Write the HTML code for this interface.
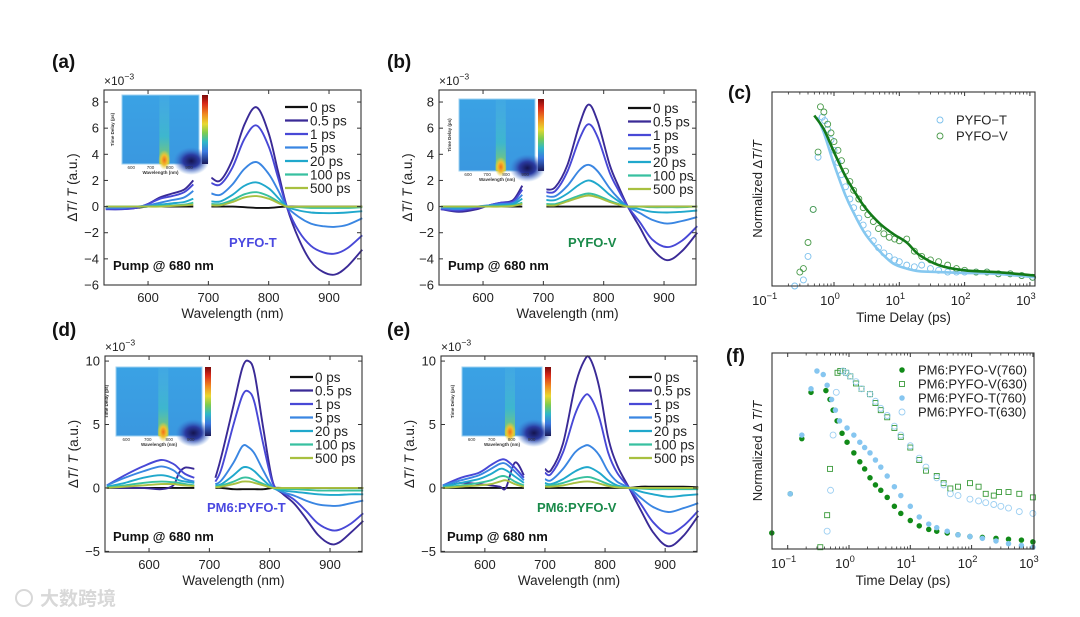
<!DOCTYPE html>
<html><head><meta charset="utf-8">
<style>
html,body{margin:0;padding:0;background:#fff;}
svg{display:block;font-family:"Liberation Sans","Noto Sans CJK SC",sans-serif;}
</style></head>
<body>
<svg id="fig" width="1080" height="617" viewBox="0 0 1080 617" xmlns="http://www.w3.org/2000/svg">
<defs>
<linearGradient id="cbar" x1="0" y1="0" x2="0" y2="1">
<stop offset="0" stop-color="#7a0a0a"/><stop offset="0.12" stop-color="#d8281a"/><stop offset="0.28" stop-color="#f08a20"/><stop offset="0.42" stop-color="#e8d830"/><stop offset="0.55" stop-color="#7ccc50"/><stop offset="0.68" stop-color="#30b8c8"/><stop offset="0.82" stop-color="#3a78e0"/><stop offset="1" stop-color="#1a1a5a"/>
</linearGradient>
<linearGradient id="stripe" x1="0" y1="0" x2="0" y2="1">
<stop offset="0" stop-color="#5ac0e0" stop-opacity="0.2"/><stop offset="0.6" stop-color="#40c8c0" stop-opacity="0.6"/><stop offset="1" stop-color="#a0d040" stop-opacity="0.95"/>
</linearGradient>
<radialGradient id="hot"><stop offset="0" stop-color="#f07018"/><stop offset="0.5" stop-color="#f0c030"/><stop offset="1" stop-color="#e0d840" stop-opacity="0"/></radialGradient>
<radialGradient id="cold"><stop offset="0" stop-color="#141450"/><stop offset="0.45" stop-color="#2a3aa0"/><stop offset="1" stop-color="#3a7ad8" stop-opacity="0"/></radialGradient>
<linearGradient id="hmbase" x1="0" y1="0" x2="0" y2="1"><stop offset="0" stop-color="#3aa2e4"/><stop offset="1" stop-color="#3a98e0"/></linearGradient>
</defs>
<g id="root"></g>
</svg>
<script>
// ---------- data: spectra panels ----------
const timeLabels = ["0 ps","0.5 ps","1 ps","5 ps","20 ps","100 ps","500 ps"];
const specTicksX = [600,700,800,900];
const ticksYab = [-6,-4,-2,0,2,4,6,8];
const ticksYde = [-5,0,5,10];

const wlA = [530,555,580,600,620,640,660,675,null,705,720,740,760,780,800,815,830,850,870,890,910,930,955];
const a0   = [-0.1,-0.1,-0.1,0,0,0,0,0,null,0,0,0,-0.05,-0.1,-0.1,-0.05,0,0,0,0,0,0,0];
const a05  = [-0.2,-0.2,-0.1,0.2,0.7,1.0,1.3,2.0,null,2.2,2.0,3.6,6.3,7.6,5.6,2.8,0,-2.5,-4.2,-5.0,-5.2,-4.6,-3.3];
const a1   = [-0.2,-0.2,-0.1,0.2,0.6,0.8,1.1,1.7,null,1.8,1.7,3.0,5.2,6.2,4.6,2.3,0,-1.9,-3.0,-3.5,-3.6,-3.2,-2.2];
const a5   = [-0.1,-0.1,0,0.1,0.3,0.5,0.7,1.2,null,1.0,0.9,1.7,2.9,3.4,2.5,1.3,0,-0.8,-1.3,-1.5,-1.55,-1.4,-0.9];
const a20  = [0,0,0,0,0.15,0.25,0.35,0.6,null,0.4,0.4,0.9,1.6,1.85,1.4,0.7,0,-0.3,-0.45,-0.5,-0.5,-0.45,-0.35];
const a100 = [0,0,0,0,0.05,0.1,0.15,0.3,null,0.2,0.2,0.5,0.95,1.1,0.8,0.4,0,-0.05,-0.1,-0.1,-0.1,-0.1,-0.05];
const a500 = [0,0,0,0,0,0.05,0.1,0.15,null,0.1,0.1,0.35,0.7,0.8,0.6,0.3,0,0,0,0,0,0,0];

const wlB = [530,560,590,610,630,650,665,null,705,720,740,760,775,790,810,825,840,860,880,905,930,955];
const b0   = [0,0,0,0,0,0,0,null,0,0,0,0,0,0,0,0,0,0,0,0,0,0];
const b05  = [-0.2,-0.4,-0.2,0.1,0.3,0.5,1.6,null,1.3,1.5,3.2,6.3,7.8,6.5,3.2,1.5,0,-1.6,-3.2,-4.1,-3.4,-2.0];
const b1   = [-0.2,-0.3,-0.1,0.1,0.3,0.4,1.3,null,1.1,1.2,2.7,5.2,6.3,5.3,2.6,1.2,0,-1.2,-2.5,-3.1,-2.6,-1.5];
const b5   = [-0.1,-0.2,0,0.1,0.2,0.3,0.9,null,0.8,0.8,1.6,2.8,3.2,2.7,1.4,0.6,0,-0.5,-1.0,-1.3,-1.1,-0.8];
const b20  = [0,-0.1,0,0.05,0.1,0.2,0.6,null,0.5,0.5,1.0,1.7,2.0,1.7,0.9,0.4,0,-0.2,-0.4,-0.45,-0.4,-0.3];
const b100 = [0,0,0,0,0.05,0.1,0.3,null,0.2,0.2,0.5,0.85,1.0,0.85,0.45,0.2,0,0,-0.05,-0.05,-0.05,0];
const b500 = [0,0,0,0,0,0.05,0.2,null,0.1,0.1,0.4,0.7,0.85,0.7,0.35,0.15,0,0,0,0,0,0];

const wlD = [530,560,590,620,640,650,660,675,null,710,720,740,755,765,775,790,805,820,840,860,880,900,915,935,955];
const d0   = [0,0,0,0,0,0,0,0,null,0,0,-0.1,-0.1,-0.1,-0.1,-0.1,0,0,0,0,0,0,0,0,0];
const d05  = [0,0,0,-0.1,0.2,1.2,1.6,1.5,null,0.8,2.5,6.5,9.5,10.0,9.0,4.5,0.5,-0.4,-1.2,-2.4,-3.7,-4.4,-4.3,-3.5,-2.6];
const d1   = [0.2,1.0,1.7,2.2,1.9,1.5,1.1,0.8,null,0.5,1.5,5.0,7.3,7.6,6.7,3.3,0.4,-0.3,-0.9,-1.8,-2.8,-3.3,-3.3,-2.8,-2.0];
const d5   = [0.2,0.8,1.3,1.7,1.4,1.0,0.7,0.5,null,0.3,0.6,2.0,3.3,3.2,2.7,1.3,0.1,-0.3,-0.6,-1.0,-1.3,-1.4,-1.4,-1.2,-1.0];
const d20  = [0.1,0.4,0.8,1.0,0.8,0.6,0.5,0.4,null,0.2,0.3,1.0,1.6,1.6,1.3,0.6,0,-0.2,-0.3,-0.4,-0.5,-0.55,-0.55,-0.5,-0.5];
const d100 = [0.05,0.2,0.4,0.5,0.45,0.4,0.3,0.2,null,0.1,0.2,0.5,0.8,0.8,0.6,0.3,0,-0.1,-0.1,-0.15,-0.2,-0.2,-0.2,-0.2,-0.2];
const d500 = [0,0.1,0.2,0.3,0.3,0.25,0.2,0.15,null,0.05,0.1,0.3,0.5,0.5,0.4,0.2,0,0,0,0,0,0,0,0,0];

const wlE = [530,560,590,610,625,635,650,665,null,700,710,730,750,765,775,790,805,820,840,860,880,905,930,955];
const e0   = [0,0,0,0,0,0,0,0,null,0,0,0,0,0,0,0,0,0,0,0.1,0.1,0.1,0.1,0.05];
const e05  = [0.1,0.4,0.3,0.2,0.1,0,2.0,1.0,null,1.5,1.4,3.5,8.0,10.0,10.2,8.0,4.0,1.8,0,-1.8,-3.5,-4.6,-3.8,-2.2];
const e1   = [0.2,0.8,1.2,1.8,2.2,2.2,1.6,0.8,null,1.2,1.1,2.8,5.8,7.2,7.2,5.6,2.8,1.2,0,-1.3,-2.7,-3.6,-3.0,-1.8];
const e5   = [0.2,0.6,1.0,1.5,1.9,1.9,1.3,0.6,null,0.7,0.6,1.5,2.8,3.3,3.3,2.6,1.3,0.5,0,-0.8,-1.5,-1.9,-1.6,-1.2];
const e20  = [0.1,0.4,0.7,1.1,1.5,1.4,0.9,0.4,null,0.4,0.3,0.7,1.3,1.6,1.6,1.2,0.6,0.2,0,-0.3,-0.5,-0.7,-0.6,-0.5];
const e100 = [0.05,0.2,0.4,0.6,0.9,0.9,0.5,0.2,null,0.2,0.2,0.4,0.7,0.85,0.85,0.6,0.3,0.1,0,-0.05,-0.1,-0.1,-0.1,-0.1];
const e500 = [0,0.1,0.2,0.3,0.5,0.6,0.3,0.1,null,0.1,0.1,0.2,0.4,0.5,0.5,0.35,0.15,0.05,0,0,0,0,0,0];

// ---------- data: kinetics (c) ----------
const logTicks = [-1,0,1,2,3];
const cT_t = [0.25,0.34,0.4,0.48,0.57,0.66,0.72,0.8,0.9,1.0,1.15,1.3,1.5,1.75,2,2.4,2.8,3.3,4,4.8,5.8,7,8.5,10,13,17,22,30,40,55,75,100,150,220,330,500,750,1100];
const cT_v = [0,0.035,0.17,0.44,0.74,0.97,0.95,0.9,0.84,0.78,0.71,0.64,0.57,0.5,0.45,0.39,0.35,0.3,0.26,0.22,0.19,0.17,0.15,0.14,0.12,0.11,0.12,0.1,0.09,0.08,0.08,0.08,0.08,0.08,0.07,0.07,0.06,0.05];
const cV_t = [0.3,0.34,0.4,0.48,0.57,0.62,0.7,0.8,0.9,1.0,1.15,1.3,1.5,1.75,2,2.4,2.8,3.3,4,4.8,5.8,7,8.5,10,13,17,22,30,40,55,75,100,150,220,330,500,750,1100];
const cV_v = [0.08,0.1,0.25,0.44,0.77,1.03,1.0,0.93,0.88,0.83,0.78,0.72,0.66,0.6,0.55,0.5,0.45,0.41,0.37,0.33,0.3,0.28,0.27,0.26,0.27,0.2,0.17,0.15,0.14,0.12,0.1,0.09,0.08,0.08,0.07,0.07,0.06,0.05];
const fitT_t = [0.55,0.7,1,1.5,2,3,5,8,13,20,40,100,300,1200];
const fitT_v = [0.97,0.88,0.7,0.52,0.42,0.3,0.2,0.13,0.1,0.085,0.08,0.075,0.07,0.05];
const fitV_t = [0.5,0.7,1,1.5,2,3,5,8,13,20,40,100,300,1200];
const fitV_v = [0.98,0.9,0.77,0.63,0.55,0.45,0.36,0.3,0.25,0.18,0.12,0.09,0.08,0.06];

// ---------- data: kinetics (f) ----------
const fV760_t = [0.055,0.11,0.17,0.24,0.42,0.49,0.55,0.64,0.77,0.93,1.2,1.5,1.8,2.2,2.7,3.3,4.2,5.5,7,10,14,20,27,40,60,94,150,250,400,650,1000];
const fV760_v = [0.09,0.31,0.62,0.88,0.89,0.84,0.78,0.72,0.65,0.6,0.54,0.49,0.45,0.4,0.36,0.33,0.29,0.24,0.2,0.16,0.13,0.11,0.1,0.09,0.08,0.07,0.065,0.06,0.055,0.05,0.04];
const fT760_t = [0.11,0.17,0.24,0.3,0.38,0.44,0.52,0.6,0.7,0.93,1.2,1.5,1.8,2.2,2.7,3.3,4.2,5.5,7,10,14,20,27,40,60,94,150,250,400,650,1000];
const fT760_v = [0.31,0.64,0.9,1.0,0.98,0.92,0.84,0.78,0.72,0.68,0.64,0.6,0.57,0.54,0.5,0.46,0.41,0.35,0.3,0.24,0.18,0.14,0.12,0.1,0.08,0.07,0.06,0.045,0.03,0.02,0.01];
const fV630_t = [0.34,0.44,0.49,0.65,0.72,0.8,0.9,1.05,1.3,1.6,2.2,2.7,3.3,4.2,5.5,7,10,14,18,27,35,45,60,94,130,170,230,280,400,600,1000];
const fV630_v = [0.01,0.19,0.45,0.99,1.0,1.0,0.99,0.97,0.93,0.9,0.87,0.82,0.78,0.74,0.68,0.63,0.57,0.5,0.44,0.41,0.37,0.34,0.35,0.37,0.35,0.31,0.3,0.32,0.32,0.31,0.29];
const fT630_t = [0.44,0.5,0.55,0.62,0.8,0.9,1.05,1.3,1.6,2.2,2.7,3.3,4.2,5.5,7,10,14,18,27,35,45,60,94,130,170,230,300,400,600,1000];
const fT630_v = [0.1,0.33,0.64,0.88,1.0,0.99,0.97,0.94,0.9,0.87,0.83,0.79,0.75,0.69,0.64,0.58,0.51,0.46,0.4,0.36,0.31,0.3,0.28,0.27,0.26,0.25,0.24,0.23,0.21,0.2];

// ---------- drawing ----------
const NS = "http://www.w3.org/2000/svg";
const root = document.getElementById('root');
const COLORS = ["#111111","#3a2a96","#4848d6","#3a86e2","#20a8cc","#38c0a0","#a8c040"];
function mk(tag, attrs, parent, txt){
  const e = document.createElementNS(NS, tag);
  for (const k in attrs) e.setAttribute(k, attrs[k]);
  if (txt !== undefined) e.textContent = txt;
  (parent || root).appendChild(e);
  return e;
}
function lin(d0,d1,p0,p1){ return v => p0 + (v-d0)*(p1-p0)/(d1-d0); }
function smoothPath(pts){
  let d = "";
  for (let i=0;i<pts.length;i++){
    const p = pts[i];
    if (i===0){ d += "M"+p[0].toFixed(1)+","+p[1].toFixed(1); continue; }
    const p0 = pts[Math.max(0,i-2)], p1 = pts[i-1], p3 = pts[Math.min(pts.length-1,i+1)];
    const c1x = p1[0]+(p[0]-p0[0])/6, c1y = p1[1]+(p[1]-p0[1])/6;
    const c2x = p[0]-(p3[0]-p1[0])/6, c2y = p[1]-(p3[1]-p1[1])/6;
    d += "C"+c1x.toFixed(1)+","+c1y.toFixed(1)+" "+c2x.toFixed(1)+","+c2y.toFixed(1)+" "+p[0].toFixed(1)+","+p[1].toFixed(1);
  }
  return d;
}
function supText(g, x, y, base, exp, anchor, size){
  const t = mk('text',{x:x,y:y,'font-size':size,'text-anchor':anchor||'middle',fill:'#222'},g);
  const s1 = document.createElementNS(NS,'tspan'); s1.textContent = base; t.appendChild(s1);
  const s2 = document.createElementNS(NS,'tspan'); s2.setAttribute('dy', -size*0.45); s2.setAttribute('font-size', size*0.72); s2.textContent = exp; t.appendChild(s2);
  return t;
}
function boxTicks(g, b, xs, ys){
  xs.forEach(px=>{ mk('line',{x1:px,x2:px,y1:b.y1,y2:b.y1-4,stroke:'#333','stroke-width':1},g); mk('line',{x1:px,x2:px,y1:b.y0,y2:b.y0+4,stroke:'#333','stroke-width':1},g); });
  ys.forEach(py=>{ mk('line',{x1:b.x0,x2:b.x0+4,y1:py,y2:py,stroke:'#333','stroke-width':1},g); mk('line',{x1:b.x1,x2:b.x1-4,y1:py,y2:py,stroke:'#333','stroke-width':1},g); });
}
function inset(g, r, hotX, coldX){
  const ig = mk('g',{},g);
  mk('rect',{x:r.x,y:r.y,width:r.w,height:r.h,fill:'url(#hmbase)',stroke:'#9cd0f0','stroke-width':1},ig);
  mk('rect',{x:r.x+r.w*hotX-5,y:r.y,width:10,height:r.h,fill:'url(#stripe)'},ig);
  mk('ellipse',{cx:r.x+r.w*hotX,cy:r.y+r.h-4,rx:6,ry:10,fill:'url(#hot)'},ig);
  mk('ellipse',{cx:r.x+r.w*coldX,cy:r.y+r.h-3,rx:18,ry:14,fill:'url(#cold)'},ig);
  mk('rect',{x:r.x+r.w+3,y:r.y,width:6,height:r.h,fill:'url(#cbar)'},ig);
  [600,700,800,900].forEach((v,i)=>mk('text',{x:r.x+r.w*(0.12+i*0.25),y:r.y+r.h+5,'font-size':4.5,'text-anchor':'middle',fill:'#333'},ig,String(v)));
  mk('text',{x:r.x+r.w/2,y:r.y+r.h+10,'font-size':4.5,'text-anchor':'middle',fill:'#333','font-weight':'bold'},ig,'Wavelength (nm)');
  mk('text',{x:r.x-8,y:r.y+r.h/2,'font-size':4.5,'text-anchor':'middle',fill:'#333','font-weight':'bold',transform:'rotate(-90 '+(r.x-8)+' '+(r.y+r.h/2)+')'},ig,'Time Delay (ps)');
}

function spectraPanel(cfg){
  const g = mk('g',{});
  const b = cfg.box;
  const X = lin(cfg.xd[0],cfg.xd[1],b.x0,b.x1), Y = lin(cfg.yd[0],cfg.yd[1],b.y1,b.y0);
  mk('text',{x:cfg.lab[0],y:cfg.lab[1],'font-size':19,'font-weight':'bold',fill:'#111'},g,cfg.label);
  inset(g, cfg.inset, cfg.hotX, cfg.coldX);
  cfg.series.forEach((vals,si)=>{
    let segs=[[]];
    cfg.wl.forEach((w,i)=>{ if (w===null||vals[i]===null){ segs.push([]); } else segs[segs.length-1].push([X(w),Y(vals[i])]); });
    const d = segs.filter(s=>s.length>1).map(smoothPath).join(" ");
    const p = mk('path',{d:d,fill:'none',stroke:COLORS[si],'stroke-width':1.9,'stroke-linejoin':'round'},g);
    
    
  });
  mk('rect',{x:b.x0,y:b.y0,width:b.x1-b.x0,height:b.y1-b.y0,fill:'none',stroke:'#333','stroke-width':1.1,},g);
  boxTicks(g,b,specTicksX.map(X),cfg.yt.map(Y));
  specTicksX.forEach(v=>mk('text',{x:X(v),y:b.y1+17,'font-size':13,'text-anchor':'middle',fill:'#222',},g,String(v)));
  cfg.yt.forEach(v=>mk('text',{x:b.x0-5,y:Y(v)+4.5,'font-size':13,'text-anchor':'end',fill:'#222',},g,(v<0?'\u2212'+(-v):String(v))));
  const ex = supText(g,b.x0,b.y0-5,'\u00d710','\u22123','start',12);
   
  mk('text',{x:(b.x0+b.x1)/2,y:b.y1+33,'font-size':13.5,'text-anchor':'middle',fill:'#222',},g,'Wavelength (nm)');
  const yx = b.x0-27, yy=(b.y0+b.y1)/2;
  const yt = mk('text',{x:yx,y:yy,'font-size':13.5,'text-anchor':'middle',fill:'#222',transform:'rotate(-90 '+yx+' '+yy+')',},g);
  yt.innerHTML = '\u0394<tspan font-style="italic">T</tspan>/ <tspan font-style="italic">T</tspan> (a.u.)';
  const lg = mk('g',{},g);
  timeLabels.forEach((t,i)=>{
    const y = cfg.leg[1]+i*13.5;
    mk('line',{x1:cfg.leg[0],x2:cfg.leg[0]+23,y1:y,y2:y,stroke:COLORS[i],'stroke-width':2.2},lg);
    mk('text',{x:cfg.leg[0]+25,y:y+5,'font-size':13.5,fill:'#222',},lg,t);
  });
  mk('text',{x:cfg.pump[0],y:cfg.pump[1],'font-size':13,'font-weight':'bold',fill:'#111',},g,'Pump @ 680 nm');
  mk('text',{x:cfg.tag[0],y:cfg.tag[1],'font-size':13,'font-weight':'bold',fill:cfg.tagColor,},g,cfg.tagText);
}

spectraPanel({name:'panel-a',label:'(a)',lab:[52,68],box:{x0:104,x1:361,y0:90,y1:285},xd:[527,953],yd:[-6,8.92],yt:ticksYab,
  wl:wlA,series:[a0,a05,a1,a5,a20,a100,a500],inset:{x:122,y:95,w:77,h:69},hotX:0.55,coldX:0.9,
  leg:[285,107],pump:[113,270],tag:[229,247],tagText:'PYFO-T',tagColor:'#4a48e0'});
spectraPanel({name:'panel-b',label:'(b)',lab:[387,68],box:{x0:439,x1:696,y0:90,y1:285},xd:[527,953],yd:[-6,8.92],yt:ticksYab,
  wl:wlB,series:[b0,b05,b1,b5,b20,b100,b500],inset:{x:459,y:99,w:76,h:72},hotX:0.55,coldX:0.9,
  leg:[628,108],pump:[448,270],tag:[568,247],tagText:'PYFO-V',tagColor:'#1a8a4a'});
spectraPanel({name:'panel-d',label:'(d)',lab:[52,336],box:{x0:105,x1:362,y0:356,y1:552},xd:[527,953],yd:[-5.05,10.4],yt:ticksYde,
  wl:wlD,series:[d0,d05,d1,d5,d20,d100,d500],inset:{x:116,y:367,w:86,h:69},hotX:0.55,coldX:0.9,
  leg:[290,377],pump:[113,541],tag:[207,512],tagText:'PM6:PYFO-T',tagColor:'#4a48e0'});
spectraPanel({name:'panel-e',label:'(e)',lab:[387,336],box:{x0:441,x1:697,y0:356,y1:552},xd:[527,953],yd:[-5.05,10.4],yt:ticksYde,
  wl:wlE,series:[e0,e05,e1,e5,e20,e100,e500],inset:{x:462,y:367,w:80,h:69},hotX:0.6,coldX:0.9,
  leg:[629,377],pump:[447,541],tag:[537,512],tagText:'PM6:PYFO-V',tagColor:'#1a8a4a'});

function kineticsPanel(cfg){
  const g = mk('g',{});
  const b = cfg.box;
  const X = t => cfg.x0 + cfg.dec*Math.log10(t);
  const Y = lin(0,1,b.y1,cfg.ytop);
  mk('text',{x:cfg.lab[0],y:cfg.lab[1],'font-size':19,'font-weight':'bold',fill:'#111'},g,cfg.label);
  cfg.scat.forEach(s=>{
    const sg = mk('g',{},g);
    
    
    s.t.forEach((t,i)=>{
      const px = X(t), py = Y(s.v[i]);
      if (px < b.x0-1 || px > b.x1+3) return;
      if (s.shape==='square') mk('rect',{x:px-2.5,y:py-2.5,width:5,height:5,fill:s.fill,stroke:s.color,'stroke-width':0.9},sg);
      else mk('circle',{cx:px,cy:py,r:s.r||2.6,fill:s.fill,stroke:s.color,'stroke-width':0.9},sg);
    });
  });
  (cfg.fits||[]).forEach(f=>{
    const p = mk('path',{d:smoothPath(f.t.map((t,i)=>[X(t),Y(f.v[i])])),fill:'none',stroke:f.color,'stroke-width':2.6},g);
    
    
  });
  mk('rect',{x:b.x0,y:b.y0,width:b.x1-b.x0,height:b.y1-b.y0,fill:'none',stroke:'#333','stroke-width':1.1,},g);
  const xs = logTicks.map(e=>X(Math.pow(10,e))).filter(x=>x>=b.x0-0.5&&x<=b.x1+0.5);
  boxTicks(g,b,xs,[]);
  logTicks.forEach(e=>{ for(let m=2;m<10;m++){ const px=X(m*Math.pow(10,e)); if(px>b.x0&&px<b.x1){ mk('line',{x1:px,x2:px,y1:b.y1,y2:b.y1-2.5,stroke:'#333','stroke-width':0.8},g); mk('line',{x1:px,x2:px,y1:b.y0,y2:b.y0+2.5,stroke:'#333','stroke-width':0.8},g);} } });
  logTicks.forEach(e=>{ const t = supText(g,X(Math.pow(10,e))-4,b.y1+19,'10',String(e).replace('-','\u2212'),'middle',13);   });
  mk('text',{x:(b.x0+b.x1)/2,y:b.y1+36,'font-size':13.5,'text-anchor':'middle',fill:'#222',},g,'Time Delay (ps)');
  const yx=b.x0-10, yy=(b.y0+b.y1)/2;
  const yt = mk('text',{x:yx,y:yy,'font-size':13,'text-anchor':'middle',fill:'#222',transform:'rotate(-90 '+yx+' '+yy+')',},g);
  yt.innerHTML = cfg.ytitle;
  const lg = mk('g',{},g);
  cfg.scat.forEach((s,i)=>{
    const y = cfg.leg[1]+i*cfg.legStep;
    if (s.shape==='square') mk('rect',{x:cfg.leg[0]-2.5,y:y-2.5,width:5,height:5,fill:s.fill,stroke:s.color,'stroke-width':0.9},lg);
    else mk('circle',{cx:cfg.leg[0],cy:y,r:s.r||2.6,fill:s.fill,stroke:s.color,'stroke-width':0.9},lg);
    mk('text',{x:cfg.leg[0]+16,y:y+4.5,'font-size':13,fill:'#222',},lg,s.label);
  });
}

kineticsPanel({name:'panel-c',label:'(c)',lab:[728,99],box:{x0:772,x1:1035,y0:92,y1:286},x0:834,dec:65.3,ytop:112,
  scat:[{name:'pyfo-t-points',label:'PYFO\u2212T',t:cT_t,v:cT_v,color:'#7cc0ec',fill:'none',r:3},
        {name:'pyfo-v-points',label:'PYFO\u2212V',t:cV_t,v:cV_v,color:'#4a9a4a',fill:'none',r:3}],
  fits:[{name:'pyfo-t-fit',t:fitT_t,v:fitT_v,color:'#86c8f0'},{name:'pyfo-v-fit',t:fitV_t,v:fitV_v,color:'#137a18'}],
  leg:[940,120],legStep:16,ytitle:'Normalized \u0394<tspan font-style="italic">T</tspan>/<tspan font-style="italic">T</tspan>'});
kineticsPanel({name:'panel-f',label:'(f)',lab:[726,362],box:{x0:772,x1:1034,y0:353,y1:549},x0:849,dec:61.3,ytop:371,
  scat:[{name:'pm6-pyfo-v-760',label:'PM6:PYFO-V(760)',t:fV760_t,v:fV760_v,color:'#118a18',fill:'#118a18',r:2.3},
        {name:'pm6-pyfo-v-630',label:'PM6:PYFO-V(630)',t:fV630_t,v:fV630_v,color:'#3a9a3a',fill:'none',shape:'square'},
        {name:'pm6-pyfo-t-760',label:'PM6:PYFO-T(760)',t:fT760_t,v:fT760_v,color:'#86c6f0',fill:'#86c6f0',r:2.3},
        {name:'pm6-pyfo-t-630',label:'PM6:PYFO-T(630)',t:fT630_t,v:fT630_v,color:'#9ccff2',fill:'none',r:3}],
  leg:[902,370],legStep:14,ytitle:'Normalized \u0394 <tspan font-style="italic">T</tspan>/<tspan font-style="italic">T</tspan>'});

const wm = mk('g',{});
mk('circle',{cx:24,cy:598,r:8,fill:'none',stroke:'#d8d8d8','stroke-width':2},wm);
mk('text',{x:40,y:605,'font-size':19,fill:'#d8d8d8','font-weight':'bold'},wm,'大数跨境');
</script>
</body></html>
